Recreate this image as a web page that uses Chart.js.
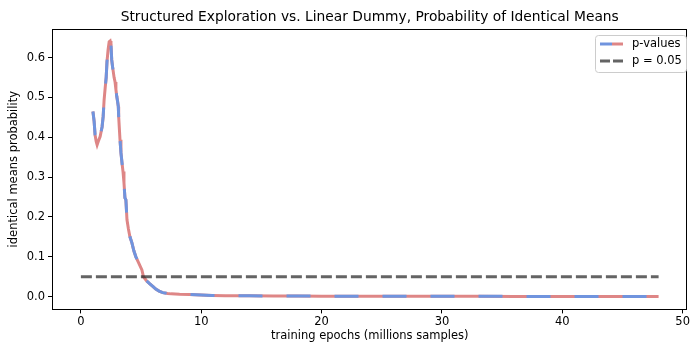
<!DOCTYPE html>
<html>
<head>
<meta charset="utf-8">
<script src="https://cdn.jsdelivr.net/npm/chart.js@4.4.1/dist/chart.umd.min.js"></script>
<style>
  html, body { margin: 0; padding: 0; background: #fff; }
  #wrap { width: 692px; height: 343px; }
</style>
</head>
<body>
<div id="wrap"><canvas id="chart" width="692" height="343"></canvas></div>
<script>
const TITLE = 'Structured Exploration vs. Linear Dummy, Probability of Identical Means';

// training epochs (millions samples)
const epochs = [1.0, 1.1, 1.18, 1.27, 1.35, 1.45, 1.6, 1.76, 1.85, 1.93,
    2.02, 2.1, 2.17, 2.26, 2.35, 2.43, 2.5, 2.56, 2.62, 2.69,
    2.76, 2.84, 2.91, 2.98, 3.05, 3.11, 3.14, 3.2, 3.25, 3.33,
    3.42, 3.5, 3.58, 3.66, 3.74, 3.83, 3.95, 4.07, 4.24, 4.4,
    4.57, 4.8, 5.07, 5.2, 5.45, 5.73, 6.0, 6.22, 6.5, 6.8,
    7.2, 7.5, 8.2, 9.0, 10.0, 10.9, 12, 14, 16, 18,
    20, 22, 25, 28, 30, 33, 36, 40, 44, 48];

// p-values
const pValues = [0.465, 0.44, 0.406, 0.39, 0.381, 0.39, 0.402, 0.426, 0.452, 0.494,
    0.525, 0.55, 0.59, 0.62, 0.64, 0.642, 0.632, 0.595, 0.58, 0.565,
    0.55, 0.539, 0.52, 0.503, 0.49, 0.477, 0.452, 0.42, 0.394, 0.361,
    0.335, 0.314, 0.286, 0.248, 0.243, 0.193, 0.17, 0.151, 0.135, 0.115,
    0.100, 0.085, 0.067, 0.050, 0.04, 0.032, 0.025, 0.019, 0.014, 0.010,
    0.008, 0.007, 0.006, 0.0055, 0.004, 0.003, 0.0025, 0.002, 0.0018, 0.0015,
    0.0013, 0.0012, 0.001, 0.001, 0.0009, 0.0008, 0.0007, 0.0006, 0.0005, 0.0004];

const thresholdX = [0, 48];
const thresholdY = [0.05, 0.05];

const xTicks = [0, 10, 20, 30, 40, 50];
const yTicks = [0.0, 0.1, 0.2, 0.3, 0.4, 0.5, 0.6];

const BLUE = '#7094de';
const RED = '#de8686';
const GREY = 'rgba(40,40,40,0.72)';
const FONT = 'DejaVu Sans';

const pPoints = epochs.map((x, i) => ({ x: x, y: pValues[i] }));
const tPoints = thresholdX.map((x, i) => ({ x: x, y: thresholdY[i] }));

const framePlugin = {
    id: 'frame',
    afterDraw(chart) {
        const ctx = chart.ctx;
        const a = chart.chartArea;
        ctx.save();
        ctx.strokeStyle = '#000';
        ctx.lineWidth = 1;
        ctx.strokeRect(Math.round(a.left) + 0.5, Math.round(a.top) + 0.5,
            Math.round(a.right - a.left) - 1, Math.round(a.bottom - a.top));

        // title, centred over the axes
        ctx.fillStyle = '#000';
        ctx.font = '13.8px "' + FONT + '"';
        ctx.textAlign = 'center';
        ctx.textBaseline = 'middle';
        ctx.fillText(TITLE, (a.left + a.right) / 2, 17);

        // legend
        const bx = 595, by = 35, bw = 91, bh = 37;
        ctx.fillStyle = 'rgba(255,255,255,0.85)';
        ctx.strokeStyle = '#cccccc';
        ctx.beginPath();
        ctx.roundRect(bx + 0.5, by + 0.5, bw, bh, 3);
        ctx.fill();
        ctx.stroke();

        ctx.lineWidth = 3;
        ctx.lineCap = 'butt';
        let y1 = 44;
        ctx.strokeStyle = BLUE;
        ctx.beginPath(); ctx.moveTo(600, y1); ctx.lineTo(612, y1); ctx.stroke();
        ctx.strokeStyle = RED;
        ctx.beginPath(); ctx.moveTo(612, y1); ctx.lineTo(623, y1); ctx.stroke();
        let y2 = 61;
        ctx.strokeStyle = GREY;
        ctx.setLineDash([10, 3]);
        ctx.beginPath(); ctx.moveTo(600, y2); ctx.lineTo(623, y2); ctx.stroke();
        ctx.setLineDash([]);

        ctx.fillStyle = '#000';
        ctx.font = '11.5px "' + FONT + '"';
        ctx.textAlign = 'left';
        ctx.fillText(chart.data.datasets[1].label, 632, y1);
        ctx.fillText(chart.data.datasets[2].label, 632, y2);
        ctx.restore();
    }
};

new Chart(document.getElementById('chart'), {
    type: 'line',
    data: {
        datasets: [
            {
                label: '_base',
                data: pPoints,
                order: 3,
                borderColor: RED,
                borderWidth: 3,
                pointRadius: 0,
                tension: 0,
                borderCapStyle: 'butt'
            },
            {
                label: 'p-values',
                data: pPoints,
                order: 2,
                borderColor: BLUE,
                borderWidth: 3,
                borderDash: [24, 24],
                pointRadius: 0,
                tension: 0,
                borderCapStyle: 'butt'
            },
            {
                label: 'p = 0.05',
                data: tPoints,
                order: 1,
                borderColor: GREY,
                borderWidth: 3,
                borderDash: [11, 4],
                pointRadius: 0,
                tension: 0,
                borderCapStyle: 'butt'
            }
        ]
    },
    options: {
        responsive: false,
        animation: false,
        layout: { padding: { top: 29, right: 1.5, left: 0, bottom: 0 } },
        plugins: {
            legend: { display: false },
            title: { display: false },
            tooltip: { enabled: false }
        },
        scales: {
            x: {
                type: 'linear',
                min: -2.4,
                max: 50.4,
                afterBuildTicks: (s) => { s.ticks = xTicks.map(v => ({ value: v })); },
                afterFit: (s) => { s.height = 33.6; },
                grid: { drawOnChartArea: false, drawTicks: true, tickLength: 4, color: '#000' },
                border: { display: false },
                ticks: {
                    color: '#000',
                    padding: 2,
                    maxRotation: 0,
                    font: { family: FONT, size: 11.5 },
                    callback: (v) => String(v)
                },
                title: {
                    display: true,
                    text: 'training epochs (millions samples)',
                    color: '#000',
                    font: { family: FONT, size: 11.5 },
                    padding: { top: 0, bottom: 0 }
                }
            },
            y: {
                type: 'linear',
                min: -0.032,
                max: 0.672,
                afterBuildTicks: (s) => { s.ticks = yTicks.map(v => ({ value: v })); },
                afterFit: (s) => { s.width = 52; },
                grid: { drawOnChartArea: false, drawTicks: true, tickLength: 4, color: '#000' },
                border: { display: false },
                ticks: {
                    color: '#000',
                    padding: 3,
                    font: { family: FONT, size: 11.5 },
                    callback: (v) => v.toFixed(1)
                },
                title: {
                    display: true,
                    text: 'identical means probability',
                    color: '#000',
                    font: { family: FONT, size: 11.5 },
                    padding: { top: 7, bottom: 0 }
                }
            }
        }
    },
    plugins: [framePlugin]
});
</script>
</body>
</html>
